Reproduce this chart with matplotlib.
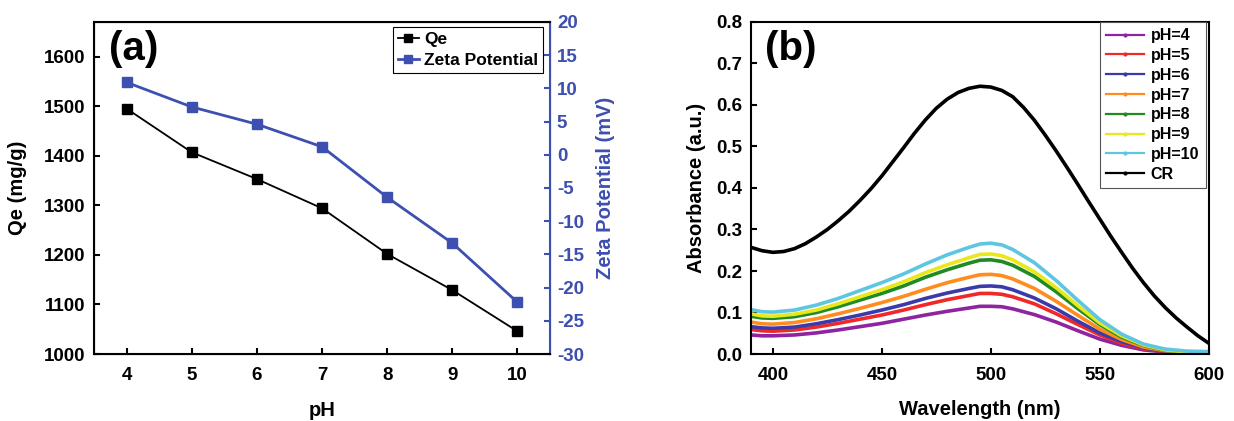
import matplotlib.pyplot as plt
from matplotlib.lines import Line2D

plt.rcParams['font.family'] = ['Liberation Sans', 'DejaVu Sans']
plt.rcParams['font.weight'] = 'bold'
plt.rcParams['axes.unicode_minus'] = False

# panel (a)
ph = [4, 5, 6, 7, 8, 9, 10]
qe = [1495, 1407, 1353, 1294, 1202, 1129, 1046]
zeta = [10.9, 7.2, 4.6, 1.2, -6.4, -13.3, -22.2]

# panel (b)
wavelength = [390, 395, 400, 410, 420, 430, 440, 450, 460, 470, 480, 490, 495,
              500, 505, 510, 520, 530, 540, 550, 560, 570, 580, 590, 600]
abs_ph4 = [0.046, 0.044, 0.044, 0.046, 0.051, 0.058, 0.066, 0.074, 0.084, 0.094, 0.103, 0.111, 0.115,
           0.115, 0.114, 0.109, 0.095, 0.077, 0.056, 0.036, 0.021, 0.010, 0.005, 0.002, 0.000]
abs_ph5 = [0.059, 0.056, 0.055, 0.058, 0.065, 0.074, 0.084, 0.094, 0.106, 0.119, 0.131, 0.141, 0.146,
           0.146, 0.144, 0.138, 0.121, 0.097, 0.071, 0.046, 0.026, 0.013, 0.006, 0.002, 0.001]
abs_ph6 = [0.066, 0.063, 0.062, 0.065, 0.073, 0.083, 0.094, 0.106, 0.119, 0.134, 0.147, 0.158, 0.163,
           0.164, 0.162, 0.155, 0.135, 0.109, 0.079, 0.051, 0.030, 0.015, 0.007, 0.003, 0.001]
abs_ph7 = [0.077, 0.073, 0.072, 0.076, 0.085, 0.097, 0.110, 0.124, 0.139, 0.156, 0.172, 0.185, 0.191,
           0.192, 0.189, 0.181, 0.158, 0.127, 0.093, 0.060, 0.035, 0.017, 0.008, 0.003, 0.002]
abs_ph8 = [0.091, 0.087, 0.086, 0.090, 0.100, 0.114, 0.130, 0.146, 0.164, 0.185, 0.203, 0.219, 0.226,
           0.227, 0.223, 0.214, 0.187, 0.150, 0.109, 0.071, 0.041, 0.021, 0.009, 0.004, 0.003]
abs_ph9 = [0.097, 0.092, 0.091, 0.096, 0.106, 0.121, 0.138, 0.155, 0.174, 0.196, 0.215, 0.232, 0.240,
           0.241, 0.237, 0.227, 0.198, 0.160, 0.116, 0.075, 0.044, 0.022, 0.010, 0.005, 0.004]
abs_ph10 = [0.107, 0.102, 0.101, 0.106, 0.118, 0.134, 0.153, 0.172, 0.193, 0.217, 0.239, 0.257, 0.265,
            0.267, 0.263, 0.252, 0.220, 0.177, 0.129, 0.083, 0.048, 0.024, 0.012, 0.007, 0.006]

wavelength_cr = [390, 395, 400, 405, 410, 415, 420, 425, 430, 435, 440, 445, 450, 455, 460,
                 465, 470, 475, 480, 485, 490, 495, 500, 505, 510, 515, 520, 525, 530, 535,
                 540, 545, 550, 555, 560, 565, 570, 575, 580, 585, 590, 595, 600]
abs_cr = [0.257, 0.249, 0.245, 0.247, 0.254, 0.266, 0.282, 0.300, 0.321, 0.344, 0.370, 0.398,
          0.429, 0.463, 0.497, 0.532, 0.564, 0.592, 0.614, 0.630, 0.640, 0.645, 0.643, 0.635,
          0.620, 0.594, 0.563, 0.527, 0.489, 0.449, 0.408, 0.366, 0.325, 0.284, 0.245, 0.207,
          0.172, 0.140, 0.112, 0.087, 0.065, 0.044, 0.026]

spectra = [("pH=4", wavelength, abs_ph4, "#8e24a0"), ("pH=5", wavelength, abs_ph5, "#f02828"),
           ("pH=6", wavelength, abs_ph6, "#3a3aaa"), ("pH=7", wavelength, abs_ph7, "#ff8c1e"),
           ("pH=8", wavelength, abs_ph8, "#208a24"), ("pH=9", wavelength, abs_ph9, "#e8e81a"),
           ("pH=10", wavelength, abs_ph10, "#5ec6e0"), ("CR", wavelength_cr, abs_cr, "black")]

blue = "#3d4fb0"
tick_fs = 13.5
label_fs = 14.5

fig = plt.figure(figsize=(12.34, 4.21), dpi=100)
ax1 = fig.add_axes([0.0762, 0.159, 0.3695, 0.789])
ax2 = ax1.twinx()

ax1.plot(ph, qe, color="black", marker="s", markersize=6.5, lw=1.3, label="Qe")
ax2.plot(ph, zeta, color=blue, marker="s", markersize=6.5, lw=2, label="Zeta Potential")

ax1.set_xlim(3.5, 10.5)
ax1.set_ylim(1000, 1670)
ax2.set_ylim(-30, 20)
ax1.set_xticks(ph)
ax1.set_yticks([1000, 1100, 1200, 1300, 1400, 1500, 1600])
ax2.set_yticks(range(-30, 21, 5))
ax1.tick_params(axis="x", direction="in", labelsize=tick_fs, width=1.5, length=4, pad=9)
ax1.tick_params(axis="y", direction="in", labelsize=tick_fs, width=1.5, length=4, pad=6.5)
ax2.tick_params(axis="y", direction="in", labelsize=tick_fs, width=1.5, length=4, pad=5,
                colors=blue, labelcolor=blue)
ax1.set_xlabel("pH", fontsize=label_fs, fontweight="bold")
ax1.set_ylabel("Qe (mg/g)", fontsize=label_fs, fontweight="bold")
ax2.set_ylabel("Zeta Potential (mV)", fontsize=label_fs, fontweight="bold", color=blue)
ax1.xaxis.set_label_coords(0.5, -0.142)
ax1.yaxis.set_label_coords(-0.147, 0.5)
ax2.yaxis.set_label_coords(1.1, 0.5)
for s in ["left", "bottom", "top"]:
    ax2.spines[s].set_linewidth(1.5)
ax2.spines["right"].set_color(blue)
ax2.spines["right"].set_linewidth(1.5)
ax1.text(0.032, 0.975, "(a)", transform=ax1.transAxes, fontsize=29, fontweight="bold",
         va="top", ha="left")

h1, l1 = ax1.get_legend_handles_labels()
h2, l2 = ax2.get_legend_handles_labels()
leg = ax2.legend(h1 + h2, l1 + l2, loc="upper right", bbox_to_anchor=(0.985, 0.985),
                 borderaxespad=0, fontsize=12.5, handlelength=1.2, handletextpad=0.3,
                 borderpad=0.3, labelspacing=0.3, fancybox=False, framealpha=1,
                 markerscale=0.8)
leg.get_frame().set_edgecolor("black")
leg.get_frame().set_linewidth(0.8)

# panel (b)
ax3 = fig.add_axes([0.6086, 0.159, 0.371, 0.789])
handles = []
for name, wl, vals, col in spectra:
    ax3.plot(wl, vals, color=col, lw=2.6)
    handles.append(Line2D([], [], color=col, lw=1.6, marker=".", markersize=4, label=name))
ax3.set_xlim(390, 600)
ax3.set_ylim(0, 0.8)
ax3.set_xticks([400, 450, 500, 550, 600])
ax3.set_yticks([0.0, 0.1, 0.2, 0.3, 0.4, 0.5, 0.6, 0.7, 0.8])
ax3.set_yticklabels(["0.0", "0.1", "0.2", "0.3", "0.4", "0.5", "0.6", "0.7", "0.8"])
ax3.tick_params(axis="x", direction="in", labelsize=tick_fs, width=1.5, length=4, pad=9)
ax3.tick_params(axis="y", direction="in", labelsize=tick_fs, width=1.5, length=4, pad=6)
for s in ax3.spines.values():
    s.set_linewidth(1.5)
ax3.set_xlabel("Wavelength (nm)", fontsize=label_fs, fontweight="bold")
ax3.set_ylabel("Absorbance (a.u.)", fontsize=label_fs, fontweight="bold")
ax3.xaxis.set_label_coords(0.5, -0.139)
ax3.yaxis.set_label_coords(-0.098, 0.5)
ax3.text(0.03, 0.975, "(b)", transform=ax3.transAxes, fontsize=29, fontweight="bold",
         va="top", ha="left")
leg3 = ax3.legend(handles=handles, loc="upper right", bbox_to_anchor=(0.993, 1.0),
                  borderaxespad=0, fontsize=11.5, handlelength=2.4, handletextpad=0.4,
                  borderpad=0.4, labelspacing=0.3, fancybox=False, framealpha=1)
leg3.get_frame().set_edgecolor("#555555")
leg3.get_frame().set_linewidth(0.8)

fig.savefig("out.png", dpi=100)
